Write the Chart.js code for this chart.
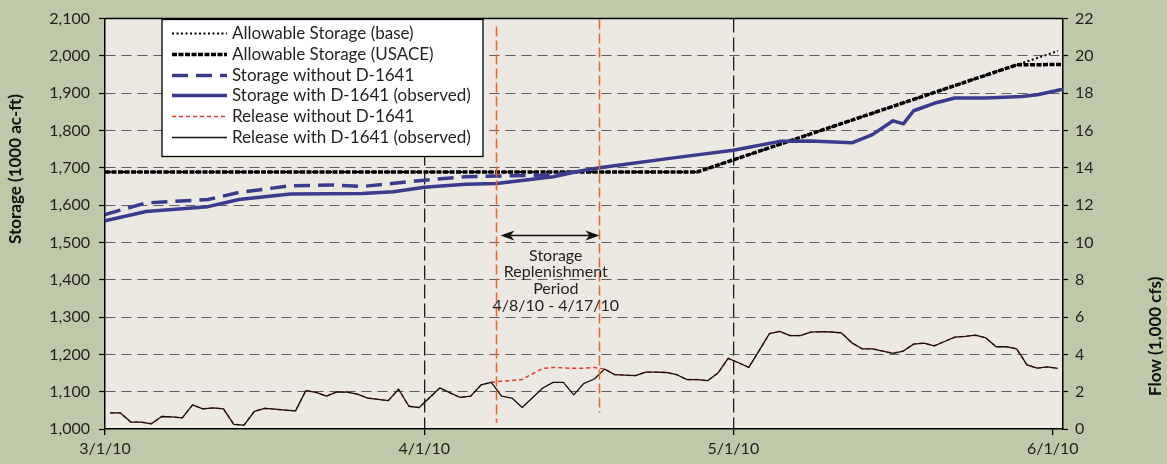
<!DOCTYPE html>
<html>
<head>
<meta charset="utf-8">
<script src="https://cdn.jsdelivr.net/npm/chart.js@4.4.1/dist/chart.umd.min.js"></script>
<style>
  html, body { margin: 0; padding: 0; background: #bfc8a9; }
  #chart { display: block; }
</style>
</head>
<body>
<canvas id="chart" width="1167" height="464"></canvas>
<script>
// x values are days since 3/1/10
const tickDays = [0, 31, 61, 92];
const tickLabels = ['3/1/10', '4/1/10', '5/1/10', '6/1/10'];

// storage, 1000 ac-ft
const allowBaseDays = [0, 57.5, 92.5];
const allowBase = [1689, 1689, 2013];
const allowUsaceDays = [0, 57.5, 88.5, 93];
const allowUsace = [1689, 1689, 1976, 1977];

const storageWithoutDays = [0, 4, 10, 13, 18, 22, 25, 31, 35, 38, 43.5, 46];
const storageWithout = [1575, 1606, 1615, 1634, 1652, 1654, 1650, 1667, 1676, 1678, 1681, 1691];

const storageWithDays = [0, 4, 10, 13, 18, 25, 28, 31, 35, 38, 43.5, 46, 48, 55, 61, 65.5, 68.5, 72.5, 74.5,
  76.5, 77.5, 78.5, 80.5, 82.5, 85.5, 89, 90.5, 93];
const storageWith = [1558, 1583, 1596, 1615, 1630, 1631, 1636, 1648, 1656, 1658, 1676, 1691, 1700, 1726, 1747,
  1771, 1772, 1767, 1789, 1826, 1818, 1853, 1873, 1887, 1887, 1891, 1896, 1911];

// daily release 3/1/10 - 6/1/10, 1,000 cfs
const releaseWith = [
  0.86, 0.86, 0.37, 0.37, 0.28, 0.67, 0.65, 0.60, 1.29, 1.08, 1.13, 1.08, 0.25, 0.21, 0.95, 1.11,
  1.06, 1.01, 0.97, 2.06, 1.96, 1.76, 1.99, 1.98, 1.87, 1.66, 1.59, 1.52, 2.13, 1.22, 1.15,
  1.68, 2.20, 1.94, 1.69, 1.76, 2.36, 2.50, 1.76, 1.66, 1.15, 1.68, 2.20, 2.50, 2.50, 1.83, 2.45,
  2.68, 3.21, 2.91, 2.89, 2.86, 3.05, 3.05, 3.03, 2.91, 2.65, 2.65, 2.59, 3.00, 3.79, 3.55,
  3.30, 4.20, 5.11, 5.23, 5.01, 5.01, 5.19, 5.22, 5.20, 5.15, 4.62, 4.30, 4.30, 4.18, 4.06, 4.18,
  4.55, 4.60, 4.46, 4.69, 4.92, 4.96, 5.03, 4.89, 4.41, 4.41, 4.30, 3.44, 3.26, 3.33, 3.25
];
const releaseWithout = [
  0.86, 0.86, 0.37, 0.37, 0.28, 0.67, 0.65, 0.60, 1.29, 1.08, 1.13, 1.08, 0.25, 0.21, 0.95, 1.11,
  1.06, 1.01, 0.97, 2.06, 1.96, 1.76, 1.99, 1.98, 1.87, 1.66, 1.59, 1.52, 2.13, 1.22, 1.15,
  1.68, 2.20, 1.94, 1.69, 1.76, 2.36, 2.50, 2.56, 2.60, 2.65, 2.96, 3.25, 3.30, 3.28, 3.25, 3.26,
  3.30, 3.21, 2.91, 2.89, 2.86, 3.05, 3.05, 3.03, 2.91, 2.65, 2.65, 2.59, 3.00, 3.79, 3.55,
  3.30, 4.20, 5.11, 5.23, 5.01, 5.01, 5.19, 5.22, 5.20, 5.15, 4.62, 4.30, 4.30, 4.18, 4.06, 4.18,
  4.55, 4.60, 4.46, 4.69, 4.92, 4.96, 5.03, 4.89, 4.41, 4.41, 4.30, 3.44, 3.26, 3.33, 3.25
];

const periodDays = [38, 48];
const periodText = ['Storage', 'Replenishment', 'Period', '4/8/10 - 4/17/10'];

const NAVY = '#3b3b8e';
const RED = '#e23b2e';
const FONT = 'Lato, "Open Sans", sans-serif';
const TEXT = '#231f20';

const pts = (xs, ys) => ys.map((y, i) => ({ x: xs[i], y }));
const daily = ys => ys.map((y, i) => ({ x: i + 0.5, y }));

const decor = {
  id: 'decor',
  beforeDraw(chart) {
    const { ctx, chartArea: a } = chart;
    ctx.save();
    ctx.fillStyle = '#bfc8a9';
    ctx.fillRect(0, 0, chart.width, chart.height);
    ctx.fillStyle = '#ece9e2';
    ctx.fillRect(a.left, a.top, a.right - a.left, a.bottom - a.top);
    ctx.restore();
  },
  afterDatasetsDraw(chart) {
    const { ctx, chartArea: a, scales: { x, y } } = chart;
    ctx.save();

    // replenishment period lines
    ctx.strokeStyle = '#f0622a';
    ctx.lineWidth = 1.5;
    ctx.setLineDash([10, 4]);
    periodDays.forEach((d, i) => {
      const px = Math.round(x.getPixelForValue(d)) + 0.5;
      ctx.beginPath();
      ctx.moveTo(px, a.top + (i ? 1 : 8));
      ctx.lineTo(px, a.bottom - (i ? 16 : 6));
      ctx.stroke();
    });
    ctx.setLineDash([]);

    // double arrow
    const x0 = x.getPixelForValue(periodDays[0]) + 4;
    const x1 = x.getPixelForValue(periodDays[1]);
    const ay = Math.round(y.getPixelForValue(1520)) + 0.5;
    ctx.strokeStyle = '#111';
    ctx.fillStyle = '#111';
    ctx.lineWidth = 1.3;
    ctx.beginPath(); ctx.moveTo(x0 + 6, ay); ctx.lineTo(x1 - 6, ay); ctx.stroke();
    [[x0, 1], [x1, -1]].forEach(([tx, s]) => {
      ctx.beginPath();
      ctx.moveTo(tx, ay);
      ctx.lineTo(tx + s * 14, ay - 5);
      ctx.lineTo(tx + s * 10, ay);
      ctx.lineTo(tx + s * 14, ay + 5);
      ctx.closePath();
      ctx.fill();
    });

    // annotation text
    const cx = x.getPixelForValue((periodDays[0] + periodDays[1]) / 2 - 0.5) + 13;
    ctx.font = '16px ' + FONT;
    ctx.fillStyle = TEXT;
    ctx.textAlign = 'center';
    ctx.textBaseline = 'middle';
    periodText.forEach((t, i) => ctx.fillText(t, cx, ay + 20 + i * 16.8));

    // top border
    ctx.strokeStyle = '#000';
    ctx.lineWidth = 1.5;
    ctx.beginPath(); ctx.moveTo(a.left, a.top); ctx.lineTo(a.right, a.top); ctx.stroke();

    // legend box
    const lx = 162, ly = 19.5, lw = 321, lh = 137;
    ctx.fillStyle = '#fff';
    ctx.fillRect(lx, ly, lw, lh);
    ctx.lineWidth = 1.3;
    ctx.strokeStyle = '#000';
    ctx.strokeRect(lx, ly, lw, lh);
    chart.data.datasets.forEach((ds, i) => {
      const ry = Math.round(ly + 13.5 + i * 20.8) + 0.5;
      ctx.save();
      ctx.strokeStyle = ds.borderColor;
      ctx.lineWidth = ds.borderWidth;
      ctx.setLineDash(ds.borderDash || []);
      ctx.beginPath(); ctx.moveTo(lx + 10, ry); ctx.lineTo(lx + 65, ry); ctx.stroke();
      ctx.restore();
      ctx.font = '17px ' + FONT;
      ctx.fillStyle = TEXT;
      ctx.textAlign = 'left';
      ctx.textBaseline = 'middle';
      ctx.fillText(ds.label, lx + 70, ry);
    });
    ctx.restore();
  },
  afterDraw(chart) {
    const { ctx } = chart;
    ctx.save();
    ctx.font = 'bold 17px ' + FONT;
    ctx.fillStyle = '#111';
    ctx.textBaseline = 'middle';
    ctx.translate(16, 94);
    ctx.rotate(-Math.PI / 2);
    ctx.textAlign = 'right';
    ctx.fillText('Storage (1000 ac-ft)', 0, 0);
    ctx.restore();
    ctx.save();
    ctx.font = 'bold 17px ' + FONT;
    ctx.fillStyle = '#111';
    ctx.textBaseline = 'middle';
    ctx.translate(1156, 396);
    ctx.rotate(-Math.PI / 2);
    ctx.textAlign = 'left';
    ctx.fillText('Flow (1,000 cfs)', 0, 0);
    ctx.restore();
  }
};

const chartCtx = document.getElementById('chart').getContext('2d');
const storageChart = new Chart(chartCtx, {
  type: 'line',
  data: {
    datasets: [
      { label: 'Allowable Storage (base)', data: pts(allowBaseDays, allowBase), yAxisID: 'y',
        borderColor: '#000', borderWidth: 2, borderDash: [2, 2.5], order: 4 },
      { label: 'Allowable Storage (USACE)', data: pts(allowUsaceDays, allowUsace), yAxisID: 'y',
        borderColor: '#000', borderWidth: 3.5, borderDash: [5, 1.5], order: 5 },
      { label: 'Storage without D-1641', data: pts(storageWithoutDays, storageWithout), yAxisID: 'y',
        borderColor: NAVY, borderWidth: 3.5, borderDash: [16, 8], order: 3 },
      { label: 'Storage with D-1641 (observed)', data: pts(storageWithDays, storageWith), yAxisID: 'y',
        borderColor: NAVY, borderWidth: 3.5, order: 2 },
      { label: 'Release without D-1641', data: daily(releaseWithout), yAxisID: 'y1',
        borderColor: RED, borderWidth: 1.5, borderDash: [4, 3], order: 1 },
      { label: 'Release with D-1641 (observed)', data: daily(releaseWith), yAxisID: 'y1',
        borderColor: '#111', borderWidth: 1.3, order: 0 }
    ]
  },
  options: {
    responsive: false,
    animation: false,
    devicePixelRatio: 1,
    layout: { padding: { top: 13, left: 0, right: 0, bottom: 0 } },
    elements: { point: { radius: 0 }, line: { tension: 0, borderJoinStyle: 'round' } },
    plugins: { legend: { display: false }, tooltip: { enabled: false } },
    scales: {
      x: {
        type: 'linear', min: 0, max: 93,
        afterBuildTicks: s => { s.ticks = tickDays.map(v => ({ value: v })); },
        afterFit: s => { s.height = 35; },
        ticks: {
          autoSkip: false, maxRotation: 0, padding: 4, color: TEXT,
          font: { family: FONT, size: 16 },
          callback: v => tickLabels[tickDays.indexOf(v)] || ''
        },
        grid: {
          color: c => (c.tick && (c.tick.value === 31 || c.tick.value === 61)) ? '#1a1a1a' : 'rgba(0,0,0,0)',
          lineWidth: 1.3, tickColor: '#000', tickLength: 6, tickBorderDash: [], tickWidth: 1.3
        },
        border: { color: '#000', width: 1.5, dash: [14, 5] }
      },
      y: {
        position: 'left', min: 1000, max: 2100,
        afterFit: s => { s.width = 105; },
        ticks: {
          stepSize: 100, padding: 9, color: TEXT,
          font: { family: FONT, size: 16 },
          callback: v => v.toLocaleString('en-US')
        },
        grid: {
          color: c => (c.tick && (c.tick.value === 1000 || c.tick.value === 2100)) ? 'rgba(0,0,0,0)' : '#5e5e5e',
          lineWidth: 1, tickColor: '#000', tickLength: 6, tickBorderDash: [], tickWidth: 1.2
        },
        border: { color: '#000', width: 1.5, dash: [10, 6] }
      },
      y1: {
        position: 'right', min: 0, max: 22,
        afterFit: s => { s.width = 104; },
        ticks: { stepSize: 2, padding: 7, color: TEXT, font: { family: FONT, size: 16 } },
        grid: { drawOnChartArea: false, tickColor: '#000', tickLength: 5, tickWidth: 1.2 },
        border: { color: '#000', width: 1.5 }
      }
    }
  },
  plugins: [decor]
});
</script>
</body>
</html>
